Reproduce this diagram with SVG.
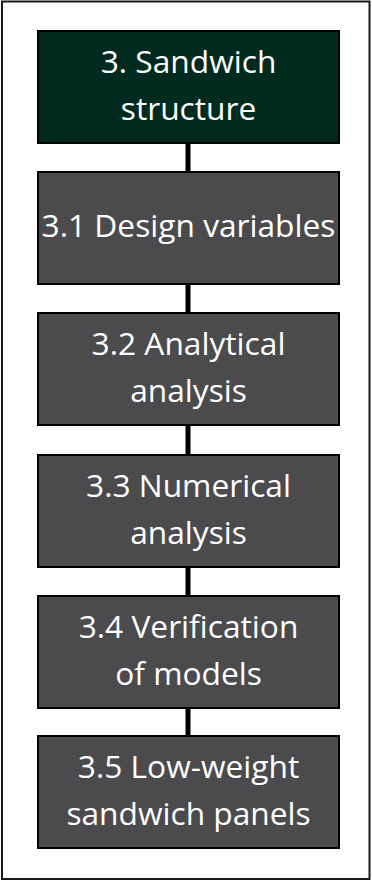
<svg xmlns="http://www.w3.org/2000/svg" width="372" height="881" viewBox="0 0 372 881">
  <style>
    .frame { fill: #ffffff; stroke: #1a1a1a; stroke-width: 2; }
    .box { stroke: #000000; stroke-width: 2; }
    .head { fill: #022b1f; }
    .sub { fill: #4b4b4e; }
    .label { fill: #ffffff; font-family: "Open Sans", "Liberation Sans", sans-serif; font-size: 31.7px; text-anchor: middle; }
    .link { stroke: #000000; stroke-width: 5; }
  </style>
  <!-- outer frame -->
  <rect class="frame" x="2" y="1.5" width="367.5" height="877.5"/>

  <!-- connectors between stacked boxes -->
  <g id="connectors">
    <line class="link" x1="188" y1="143" x2="188" y2="172"/>
    <line class="link" x1="188" y1="284" x2="188" y2="313"/>
    <line class="link" x1="188" y1="425" x2="188" y2="455"/>
    <line class="link" x1="188" y1="567" x2="188" y2="596"/>
    <line class="link" x1="188" y1="708" x2="188" y2="736"/>
  </g>

  <g id="node-3">
    <rect class="box head" x="38" y="31" width="301" height="112"/>
    <text class="label" x="188.5" y="73">3. Sandwich</text>
    <text class="label" x="188.5" y="120">structure</text>
  </g>

  <g id="node-3-1">
    <rect class="box sub" x="38" y="172" width="301" height="112"/>
    <text class="label" x="188.5" y="237">3.1 Design variables</text>
  </g>

  <g id="node-3-2">
    <rect class="box sub" x="38" y="313" width="301" height="112"/>
    <text class="label" x="188.5" y="355">3.2 Analytical</text>
    <text class="label" x="188.5" y="402">analysis</text>
  </g>

  <g id="node-3-3">
    <rect class="box sub" x="38" y="455" width="301" height="112"/>
    <text class="label" x="188.5" y="497">3.3 Numerical</text>
    <text class="label" x="188.5" y="544">analysis</text>
  </g>

  <g id="node-3-4">
    <rect class="box sub" x="38" y="596" width="301" height="112"/>
    <text class="label" x="188.5" y="638">3.4 Verification</text>
    <text class="label" x="188.5" y="685">of models</text>
  </g>

  <g id="node-3-5">
    <rect class="box sub" x="38" y="736" width="301" height="112"/>
    <text class="label" x="188.5" y="778">3.5 Low-weight</text>
    <text class="label" x="188.5" y="825">sandwich panels</text>
  </g>
</svg>
